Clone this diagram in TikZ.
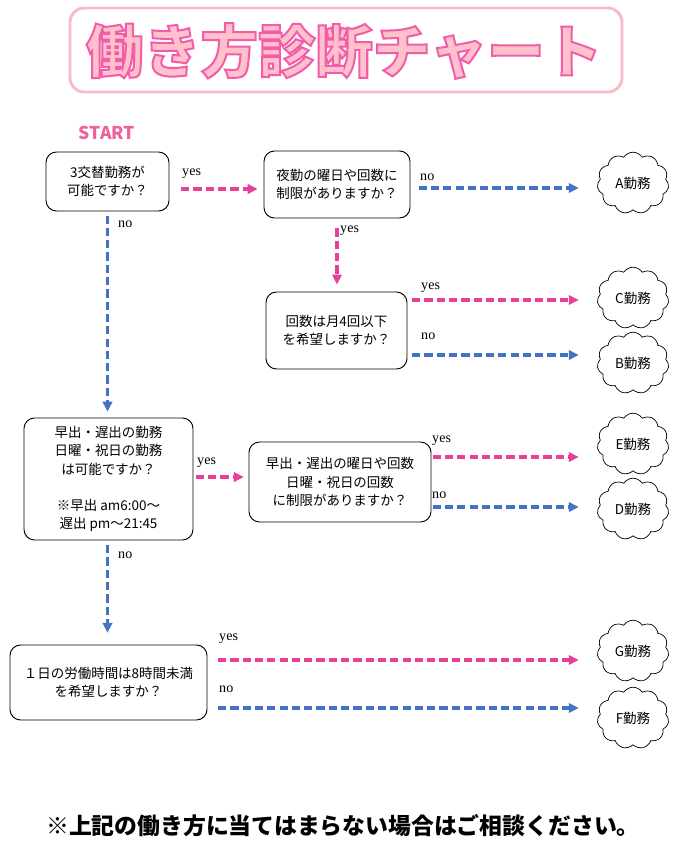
\documentclass[tikz,border=0pt]{standalone}
\usepackage{fontspec}
\usepackage{xcolor}
\usepackage{tikz}
\usetikzlibrary{arrows.meta, positioning, shapes.symbols, calc}
\setmainfont{Noto Sans CJK JP}
\newfontfamily\serifen{Liberation Serif}
\newfontfamily\titrefont[BoldFeatures={FakeBold=3.5}]{Noto Sans CJK JP}
\definecolor{rose}{HTML}{E8409A}
\definecolor{bleu}{HTML}{4472C4}
\definecolor{cadre}{HTML}{F7BCC6}
\definecolor{titrefond}{HTML}{FFC2CC}
\definecolor{debut}{HTML}{F0609E}
% contour rose du titre (couleur de trait)
\newcommand{\traitrose}{\special{pdf:literal direct 0.949 0.361 0.659 RG}}
\tikzset{
  question/.style={rectangle, rounded corners=9pt, draw=black, line width=0.8pt,
    fill=white, font=\fontsize{11.5}{15.5}\selectfont, align=center, inner sep=1mm},
  nuage/.style={cloud, cloud puffs=11, cloud puff arc=115, aspect=1.15, draw=black,
    line width=0.6pt, fill=white, minimum width=2.15cm, minimum height=1.85cm,
    font=\fontsize{11.5}{14}\selectfont, inner sep=0pt},
  oui/.style={-{Triangle[length=8.5pt, width=8pt]}, draw=rose, line width=2.8pt,
    dash pattern=on 7pt off 3.5pt},
  non/.style={oui, draw=bleu},
  etiquette/.style={font=\serifen\fontsize{12}{13}\selectfont, anchor=west, inner sep=0pt},
  titre/.style={font=\titrefont\fontsize{49}{52}\bfseries, inner sep=0pt}
}

\begin{document}
\begin{tikzpicture}[x=0.03cm, y=-0.03cm]
    \useasboundingbox (0,0) rectangle (688,854);

    % Titre
    \draw[cadre, line width=2.5pt, rounded corners=12pt, fill=white] (70,8) rectangle (622,92);
    \node[titre, text=titrefond] (titre) at (344,51) {\traitrose 働き方診断チャート};
    \node[font=\fontsize{15}{17}\bfseries, text=debut] (start) at (107,133) {START};

    % Questions
    \node[question, minimum width=3.69cm, minimum height=1.77cm] (q1) at (107.5,181.5) {3交替勤務が\\可能ですか？};
    \node[question, minimum width=4.38cm, minimum height=2.01cm] (q2) at (337,184.5) {夜勤の曜日や回数に\\制限がありますか？};
    \node[question, minimum width=4.23cm, minimum height=2.31cm] (q3) at (336.5,330.5) {回数は月4回以下\\を希望しますか？};
    \node[question, minimum width=5.07cm, minimum height=3.66cm] (q4) at (108.5,479)
      {早出・遅出の勤務\\日曜・祝日の勤務\\は可能ですか？\\[15.5pt]※早出 am6:00～\\遅出 pm～21:45};
    \node[question, minimum width=5.46cm, minimum height=2.4cm] (q5) at (340,482) {早出・遅出の曜日や回数\\日曜・祝日の回数\\に制限がありますか？};
    \node[question, minimum width=5.91cm, minimum height=2.25cm] (q6) at (108.5,682.5) {１日の労働時間は8時間未満\\を希望しますか？};

    % Resultats
    \node[nuage] (a) at (633,183) {A勤務};
    \node[nuage] (c) at (633,298) {C勤務};
    \node[nuage] (b) at (633,363) {B勤務};
    \node[nuage] (e) at (633,444) {E勤務};
    \node[nuage] (d) at (633,509) {D勤務};
    \node[nuage] (g) at (633,651) {G勤務};
    \node[nuage] (f) at (633,718) {F勤務};

    % Fleches
    \draw[oui, shorten <=10pt, shorten >=5pt] (q1.east |- 0,189) -- (q2.west |- 0,189);
    \draw[non, shorten <=7pt, shorten >=16pt] (q2.east |- 0,188) -- (a.west |- 0,188);
    \draw[oui, shorten <=8.5pt, shorten >=6pt] (q2.south) -- (q2.south |- q3.north);
    \draw[oui, shorten <=4pt, shorten >=16pt] (q3.east |- 0,300) -- (c.west |- 0,300);
    \draw[non, shorten <=4pt, shorten >=16pt] (q3.east |- 0,355) -- (b.west |- 0,355);
    \draw[non, shorten <=3.5pt, shorten >=5pt] (q1.south) -- (q1.south |- q4.north);
    \draw[oui, shorten <=2pt, shorten >=4pt] (q4.east |- 0,477) -- (q5.west |- 0,477);
    \draw[oui, shorten <=1pt, shorten >=16pt] (q5.east |- 0,457) -- (e.west |- 0,457);
    \draw[non, shorten <=1pt, shorten >=16pt] (q5.east |- 0,507) -- (d.west |- 0,507);
    \draw[non, shorten <=4pt, shorten >=10pt] (q4.south -| q1.south) -- (q1.south |- q6.north);
    \draw[oui, shorten <=9pt, shorten >=16pt] (q6.east |- 0,660) -- (g.west |- 0,660);
    \draw[non, shorten <=9pt, shorten >=16pt] (q6.east |- 0,708) -- (f.west |- 0,708);

    % Etiquettes
    \node[etiquette] (l1) at (182,174) {yes};
    \node[etiquette] (l2) at (420,177) {no};
    \node[etiquette] (l3) at (340,231) {yes};
    \node[etiquette] (l4) at (421,288) {yes};
    \node[etiquette] (l5) at (421,336) {no};
    \node[etiquette] (l6) at (118,224) {no};
    \node[etiquette] (l7) at (197,463) {yes};
    \node[etiquette] (l8) at (432,441) {yes};
    \node[etiquette] (l9) at (432,495) {no};
    \node[etiquette] (l10) at (118,555) {no};
    \node[etiquette] (l11) at (219,639) {yes};
    \node[etiquette] (l12) at (219,689) {no};

    % Note
    \node[font=\fontsize{19.5}{22}\bfseries] (note) at (343,826) {※上記の働き方に当てはまらない場合はご相談ください。};
\end{tikzpicture}
\end{document}
